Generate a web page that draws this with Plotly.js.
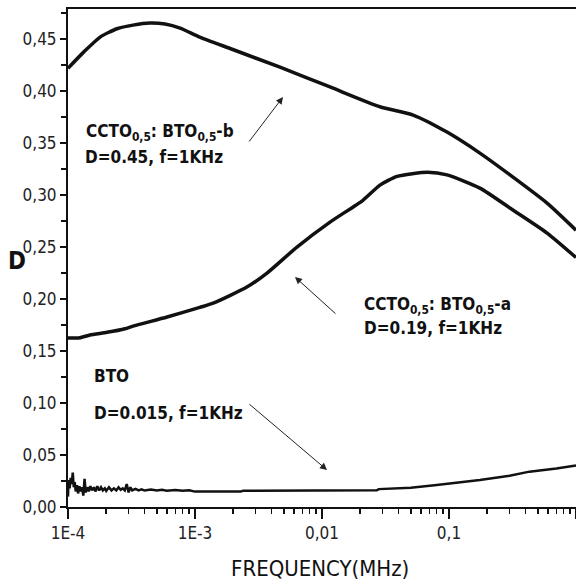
<!DOCTYPE html>
<html>
<head>
<meta charset="utf-8">
<script src="https://cdn.plot.ly/plotly-3.0.1.min.js"></script>
<style>
html,body{margin:0;padding:0;background:#fff;}
#chart{width:576px;height:584px;}
#chart text{font-stretch:condensed !important;}
</style>
</head>
<body>
<div id="chart"></div>
<script>
// Frequency (MHz) and dissipation factor D
const freqB = [1.0e-4, 1.34e-4, 1.79e-4, 2.43e-4, 3.25e-4, 4.42e-4, 5.81e-4, 7.63e-4, 1.09e-3, 1.89e-3, 4.67e-3, 0.01156, 0.0286, 0.0522, 0.0964, 0.175, 0.319, 0.592, 1.0];
const dB    = [0.422, 0.438, 0.452, 0.460, 0.4635, 0.4655, 0.4645, 0.4606, 0.452, 0.441, 0.423, 0.404, 0.385, 0.377, 0.3606, 0.3404, 0.3173, 0.2923, 0.2663];

const freqA = [1.0e-4, 1.24e-4, 1.49e-4, 2.03e-4, 2.81e-4, 3.25e-4, 6.03e-4, 1.09e-3, 1.39e-3, 2.56e-3, 3.69e-3, 6.35e-3, 0.01156, 0.0210, 0.0286, 0.0390, 0.0680, 0.0964, 0.175, 0.319, 0.592, 1.0];
const dA    = [0.1625, 0.1628, 0.1655, 0.168, 0.1715, 0.174, 0.1827, 0.192, 0.196, 0.2115, 0.225, 0.250, 0.274, 0.295, 0.3096, 0.318, 0.322, 0.3195, 0.3067, 0.2856, 0.2635, 0.240];

const freqBTO = [1.00e-4, 1.01e-4, 1.03e-4, 1.05e-4, 1.07e-4, 1.09e-4, 1.11e-4, 1.13e-4, 1.15e-4, 1.18e-4, 1.20e-4, 1.23e-4, 1.26e-4, 1.29e-4, 1.32e-4, 1.35e-4, 1.38e-4, 1.42e-4, 1.46e-4, 1.50e-4, 1.55e-4, 1.60e-4, 1.65e-4, 1.70e-4, 1.76e-4, 1.82e-4, 1.88e-4, 1.95e-4, 2.0e-4, 2.1e-4, 2.2e-4, 2.3e-4, 2.4e-4, 2.5e-4, 2.6e-4, 2.7e-4, 2.8e-4, 2.9e-4, 3.0e-4, 3.1e-4, 3.2e-4, 3.4e-4, 3.6e-4, 3.8e-4, 4.0e-4, 4.5e-4, 5.0e-4, 5.5e-4, 6.0e-4, 7.0e-4, 8.0e-4, 9.0e-4, 1.0e-3, 1.5e-3, 2.3e-3, 2.4e-3, 0.01, 0.027, 0.028, 0.05, 0.08, 0.12, 0.175, 0.3, 0.43, 0.7, 1.0];
const dBTO    = [0.010, 0.026, 0.018, 0.028, 0.022, 0.033, 0.019, 0.024, 0.015, 0.021, 0.013, 0.020, 0.015, 0.019, 0.011, 0.027, 0.014, 0.019, 0.015, 0.020, 0.016, 0.019, 0.015, 0.020, 0.016, 0.019, 0.016, 0.018, 0.0155, 0.019, 0.016, 0.018, 0.016, 0.019, 0.0165, 0.018, 0.016, 0.022, 0.014, 0.019, 0.016, 0.0175, 0.016, 0.017, 0.0158, 0.0168, 0.0158, 0.0166, 0.0157, 0.0163, 0.0156, 0.0160, 0.0148, 0.0149, 0.0149, 0.0157, 0.0158, 0.0160, 0.0172, 0.0185, 0.0212, 0.0235, 0.026, 0.030, 0.034, 0.037, 0.040];

const xTickVals = [1e-4, 1e-3, 0.01, 0.1, 1];
const xTickText = ['1E-4', '1E-3', '0,01', '0,1', '1'];

const NARROW = 'DejaVu Sans Condensed, Liberation Sans Narrow, DejaVu Sans, sans-serif';

const minorX = [];
for (let e = -4; e < 0; e++) for (let k = 2; k <= 9; k++) minorX.push(k * Math.pow(10, e));

const traces = [
  {x: freqB, y: dB, mode: 'lines', line: {color: '#111', width: 3.5, shape: 'spline', smoothing: 0.6}, name: 'CCTO:BTO-b'},
  {x: freqA, y: dA, mode: 'lines', line: {color: '#111', width: 3.5, shape: 'spline', smoothing: 0.6}, name: 'CCTO:BTO-a'},
  {x: freqBTO, y: dBTO, mode: 'lines', line: {color: '#111', width: 2.5}, name: 'BTO'}
];

function px2x(px) { return (px - 68) / 508; }
function px2y(py) { return (507 - py) / 498; }

const txtFont = {family: NARROW, size: 17, color: '#111'};
const annotations = [
  {xref: 'paper', yref: 'paper', x: px2x(84), y: px2y(132), xanchor: 'left', yanchor: 'middle', showarrow: false, font: txtFont, text: '<b>CCTO<sub>0,5</sub>: BTO<sub>0,5</sub>-b</b>'},
  {xref: 'paper', yref: 'paper', x: px2x(83), y: px2y(157), xanchor: 'left', yanchor: 'middle', showarrow: false, font: txtFont, text: '<b>D=0.45, f=1KHz</b>'},
  {xref: 'paper', yref: 'paper', x: px2x(362), y: px2y(305), xanchor: 'left', yanchor: 'middle', showarrow: false, font: txtFont, text: '<b>CCTO<sub>0,5</sub>: BTO<sub>0,5</sub>-a</b>'},
  {xref: 'paper', yref: 'paper', x: px2x(362), y: px2y(328), xanchor: 'left', yanchor: 'middle', showarrow: false, font: txtFont, text: '<b>D=0.19, f=1KHz</b>'},
  {xref: 'paper', yref: 'paper', x: px2x(92), y: px2y(376), xanchor: 'left', yanchor: 'middle', showarrow: false, font: txtFont, text: '<b>BTO</b>'},
  {xref: 'paper', yref: 'paper', x: px2x(92), y: px2y(413), xanchor: 'left', yanchor: 'middle', showarrow: false, font: txtFont, text: '<b>D=0.015, f=1KHz</b>'},
  {xref: 'paper', yref: 'paper', x: px2x(17), y: px2y(261), xanchor: 'center', yanchor: 'middle', showarrow: false, font: {family: NARROW, size: 24, color: '#111'}, text: '<b>D</b>'},
  {xref: 'paper', yref: 'paper', x: px2x(320), y: px2y(568), xanchor: 'center', yanchor: 'middle', showarrow: false, font: {family: NARROW, size: 22, color: '#111'}, text: 'FREQUENCY(MHz)'},
  {xref: 'paper', yref: 'paper', x: px2x(283), y: px2y(97), ax: -35, ay: 46, text: '', showarrow: true, arrowhead: 2, arrowsize: 1.4, arrowwidth: 1, arrowcolor: '#222'},
  {xref: 'paper', yref: 'paper', x: px2x(295), y: px2y(277), ax: 42, ay: 38, text: '', showarrow: true, arrowhead: 2, arrowsize: 1.4, arrowwidth: 1, arrowcolor: '#222'},
  {xref: 'paper', yref: 'paper', x: px2x(327), y: px2y(470), ax: -79, ay: -67, text: '', showarrow: true, arrowhead: 2, arrowsize: 1.4, arrowwidth: 1, arrowcolor: '#222'}
];

const layout = {
  width: 576, height: 584,
  margin: {l: 68, r: 0, t: 9, b: 77, pad: 0},
  paper_bgcolor: '#fff', plot_bgcolor: '#fff',
  showlegend: false,
  separators: ',.',
  font: {family: NARROW, color: '#222'},
  xaxis: {
    type: 'log', range: [-4, 0], showgrid: false, zeroline: false,
    showline: true, linecolor: '#111', linewidth: 2, mirror: true,
    tickmode: 'array', tickvals: xTickVals, ticktext: xTickText,
    ticks: 'outside', ticklen: 10, tickwidth: 1.5, tickcolor: '#111',
    tickfont: {family: NARROW, size: 17, color: '#222'},
    minor: {tickmode: 'array', tickvals: minorX, ticks: 'outside', ticklen: 5, tickwidth: 1.5, tickcolor: '#111', showgrid: false}
  },
  yaxis: {
    range: [0, 0.479], showgrid: false, zeroline: false,
    showline: true, linecolor: '#111', linewidth: 2,
    tickmode: 'linear', tick0: 0, dtick: 0.05, tickformat: '.2f',
    ticks: 'outside', ticklen: 6, tickwidth: 1.5, tickcolor: '#111',
    tickfont: {family: NARROW, size: 17, color: '#222'},
    minor: {dtick: 0.025, ticks: 'outside', ticklen: 5, tickwidth: 1.5, tickcolor: '#111', showgrid: false}
  },
  annotations: annotations
};

Plotly.newPlot('chart', traces, layout, {staticPlot: true, displayModeBar: false});
</script>
</body>
</html>
